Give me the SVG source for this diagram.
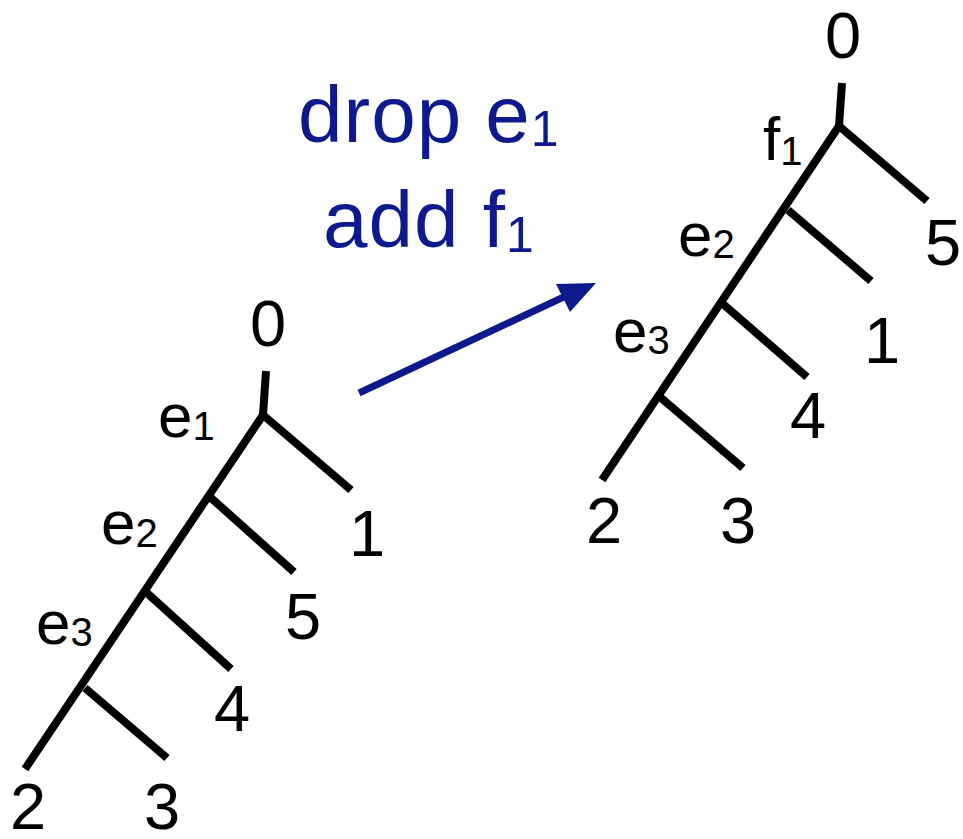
<svg xmlns="http://www.w3.org/2000/svg" width="963" height="839" viewBox="0 0 963 839">
<style>
.e{stroke:#000;stroke-width:8;fill:none;stroke-linecap:butt}
.t{font-family:"Liberation Sans","DejaVu Sans",sans-serif;fill:#000}
.d{font-size:65px;text-anchor:middle}
.l{font-size:62px}
.s{font-size:40px}
.b{font-family:"Liberation Sans","DejaVu Sans",sans-serif;fill:#0c1a8e;font-size:80px}
.bs{font-size:50px}
</style>
<rect width="963" height="839" fill="#fff"/>
<g id="connectors">
<g id="left-tree-edges">
<path class="e" d="M266,371 L263,415"/>
<path class="e" d="M263,415 L351,490"/>
<path class="e" d="M263,415 L25,769"/>
<path class="e" d="M210,497 L294,572"/>
<path class="e" d="M147,593 L231,669"/>
<path class="e" d="M85,688 L167,758"/>
</g>
<g id="right-tree-edges">
<path class="e" d="M842,83 L839,126"/>
<path class="e" d="M839,126 L927,201"/>
<path class="e" d="M839,126 L602,480"/>
<path class="e" d="M788,210 L871,281"/>
<path class="e" d="M723,304 L807,377"/>
<path class="e" d="M660,397 L743,468"/>
</g>
<g id="arrow">
<line x1="359" y1="393" x2="568" y2="295" stroke="#0c1a8e" stroke-width="7"/>
<polygon points="596,283 570,312 556,284" fill="#0c1a8e"/>
</g>
</g>
<g id="caption">
<text class="b" x="298" y="142" letter-spacing="1">drop e<tspan class="bs" dy="4">1</tspan></text>
<text class="b" x="323" y="247" letter-spacing="1">add f<tspan class="bs" dy="5">1</tspan></text>
</g>
<g id="left-tree-labels">
<g id="L0"><text class="t d" x="268" y="346">0</text></g>
<g id="L1"><text class="t d" x="367" y="556">1</text></g>
<g id="L5"><text class="t d" x="303" y="639">5</text></g>
<g id="L4"><text class="t d" x="232" y="731">4</text></g>
<g id="L2"><text class="t d" x="28" y="829">2</text></g>
<g id="L3"><text class="t d" x="162" y="829">3</text></g>
<g id="Le1"><text class="t l" x="158" y="437">e<tspan class="s" dy="3">1</tspan></text></g>
<g id="Le2"><text class="t l" x="101" y="544">e<tspan class="s" dy="3">2</tspan></text></g>
<g id="Le3"><text class="t l" x="36" y="644">e<tspan class="s" dy="2">3</tspan></text></g>
</g>
<g id="right-tree-labels">
<g id="R0"><text class="t d" x="843" y="58">0</text></g>
<g id="R5"><text class="t d" x="943" y="265">5</text></g>
<g id="R1"><text class="t d" x="882" y="363">1</text></g>
<g id="R4"><text class="t d" x="808" y="438">4</text></g>
<g id="R2"><text class="t d" x="604" y="543">2</text></g>
<g id="R3"><text class="t d" x="738" y="543">3</text></g>
<g id="Rf1"><text class="t l" x="763" y="160">f<tspan class="s" dy="5">1</tspan></text></g>
<g id="Re2"><text class="t l" x="678" y="256">e<tspan class="s" dy="2">2</tspan></text></g>
<g id="Re3"><text class="t l" x="613" y="352">e<tspan class="s" dy="2">3</tspan></text></g>
</g>
</svg>
